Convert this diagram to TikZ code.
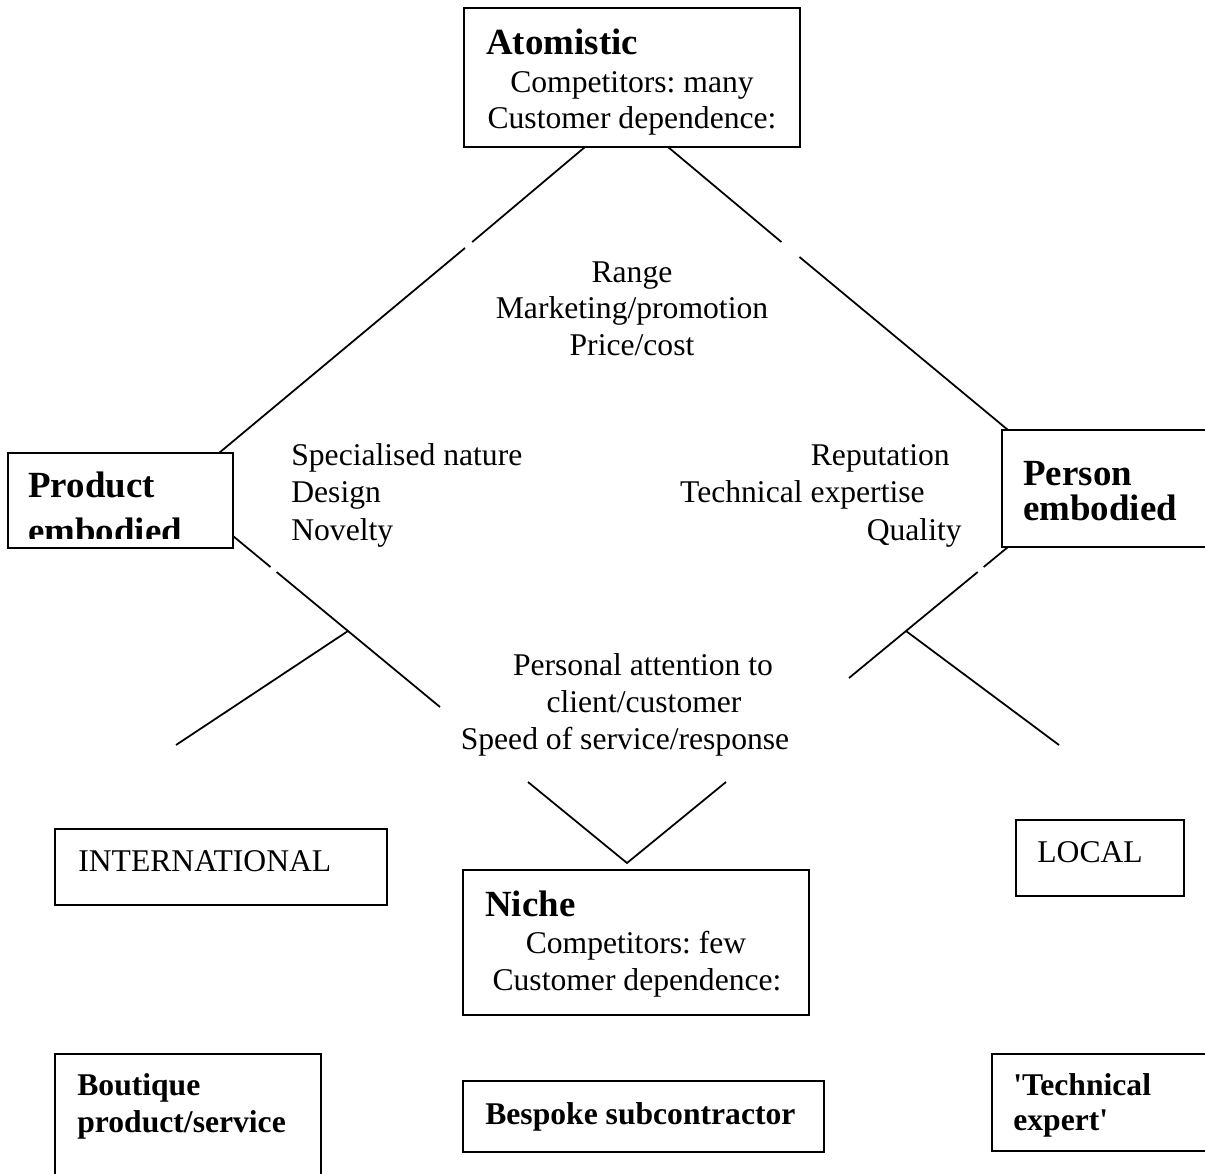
\documentclass[tikz,border=0pt]{standalone}
\usepackage{fontspec}
\setmainfont{Liberation Serif}
\frenchspacing
\newcommand{\pbox}[5]{\node[boxst, anchor=north west, minimum width={(#4-#2)*0.02cm}, minimum height={(#5-#3)*0.02cm}] (#1) at (#2,#3) {};}
\begin{document}
\begin{tikzpicture}[x=0.02cm,y=-0.02cm,
  boxst/.style={draw, line width=1pt, inner sep=0pt, outer sep=0pt},
  lnk/.style={draw, line width=1pt},
  txt/.style={inner sep=0pt, font=\fontsize{18}{21}\selectfont},
  ttl/.style={inner sep=0pt, font=\fontsize{21}{25}\selectfont\bfseries},
  btxt/.style={inner sep=0pt, font=\fontsize{18}{21}\selectfont\bfseries}]
\useasboundingbox (0,0) rectangle (1205,1174);
% boxes
\pbox{atom}{464}{8}{800}{147}
\pbox{prod}{8}{453}{233}{548}
\pbox{pers}{1002}{430}{1214}{547}
\pbox{intl}{55}{829}{387}{905}
\pbox{local}{1016}{820}{1184}{896}
\pbox{niche}{463}{870}{809}{1015}
\pbox{bout}{55}{1054}{321}{1190}
\pbox{besp}{463}{1081}{824}{1152}
\pbox{tech}{992}{1054}{1214}{1151}
% box texts
\node[ttl, anchor=base west] (atomT) at (486,54) {Atomistic};
\node[txt, anchor=base] (atomC) at (632,92) {Competitors: many};
\node[txt, anchor=base] (atomD) at (632,128) {Customer dependence:};
\node[ttl, anchor=base west] (prodT) at (28,497) {Product};
\begin{scope}
\clip (8,453) rectangle (233,538);
\node[ttl, anchor=base west] (prodE) at (28,543) {embodied};
\end{scope}
\node[ttl, anchor=base west] (persT) at (1023,485) {Person};
\node[ttl, anchor=base west] (persE) at (1023,520) {embodied};
\node[txt, anchor=base west] (intlT) at (78,871) {INTERNATIONAL};
\node[txt, anchor=base west] (localT) at (1037,862) {LOCAL};
\node[ttl, anchor=base west] (nicheT) at (485,916) {Niche};
\node[txt, anchor=base] (nicheC) at (636,953) {Competitors: few};
\node[txt, anchor=base] (nicheD) at (637,990) {Customer dependence:};
\node[btxt, anchor=base west] (boutA) at (77,1095) {Boutique};
\node[btxt, anchor=base west] (boutB) at (77,1132) {product/service};
\node[btxt, anchor=base west] (bespT) at (485,1124) {Bespoke subcontractor};
\node[btxt, anchor=base west] (techA) at (1013,1095) {\textquotesingle Technical};
\node[btxt, anchor=base west] (techB) at (1013,1130) {expert\textquotesingle};
% free texts
\node[txt, anchor=base] (r1) at (632,282) {Range};
\node[txt, anchor=base] (r2) at (632,318) {Marketing/promotion};
\node[txt, anchor=base] (r3) at (632,355) {Price/cost};
\node[txt, anchor=base west] (l1) at (291,465) {Specialised nature};
\node[txt, anchor=base west] (l2) at (291,502) {Design};
\node[txt, anchor=base west] (l3) at (291,540) {Novelty};
\node[txt, anchor=base east] (q1) at (950,465) {Reputation};
\node[txt, anchor=base east] (q2) at (925,502) {Technical expertise};
\node[txt, anchor=base east] (q3) at (962,540) {Quality};
\node[txt, anchor=base] (p1) at (643,675) {Personal attention to};
\node[txt, anchor=base] (p2) at (644,712) {client/customer};
\node[txt, anchor=base] (p3) at (625,749) {Speed of service/response};
% line points
\coordinate (aL0) at (585,147);
\coordinate (aL1) at (472.2,242);
\coordinate (aL2) at (465,248);
\coordinate (pT) at (219,453);
\coordinate (aR0) at (668,147);
\coordinate (aR1) at (781.4,242);
\coordinate (aR2) at (799.5,257);
\coordinate (qT) at (1008,430);
\coordinate (pB0) at (233,536);
\coordinate (pB1) at (270.5,567);
\coordinate (pB2) at (276.6,572);
\coordinate (pJ) at (348,631);
\coordinate (pB3) at (440,707);
\coordinate (pBr) at (176,745);
\coordinate (qB0) at (1008,547);
\coordinate (qB1) at (983.7,567);
\coordinate (qB2) at (977.7,572);
\coordinate (qJ) at (906,631);
\coordinate (qB3) at (849,678);
\coordinate (qBr) at (1059,745);
\coordinate (v1) at (528,782);
\coordinate (v2) at (627,863);
\coordinate (v3) at (726,782);
% lines
\draw[lnk] (aL0) -- (aL1);
\draw[lnk] (aL2) -- (pT);
\draw[lnk] (aR0) -- (aR1);
\draw[lnk] (aR2) -- (qT);
\draw[lnk] (pB0) -- (pB1);
\draw[lnk] (pB2) -- (pJ) -- (pB3);
\draw[lnk] (pJ) -- (pBr);
\draw[lnk] (qB0) -- (qB1);
\draw[lnk] (qB2) -- (qJ) -- (qB3);
\draw[lnk] (qJ) -- (qBr);
\draw[lnk] (v1) -- (v2) -- (v3);
\end{tikzpicture}
\end{document}
